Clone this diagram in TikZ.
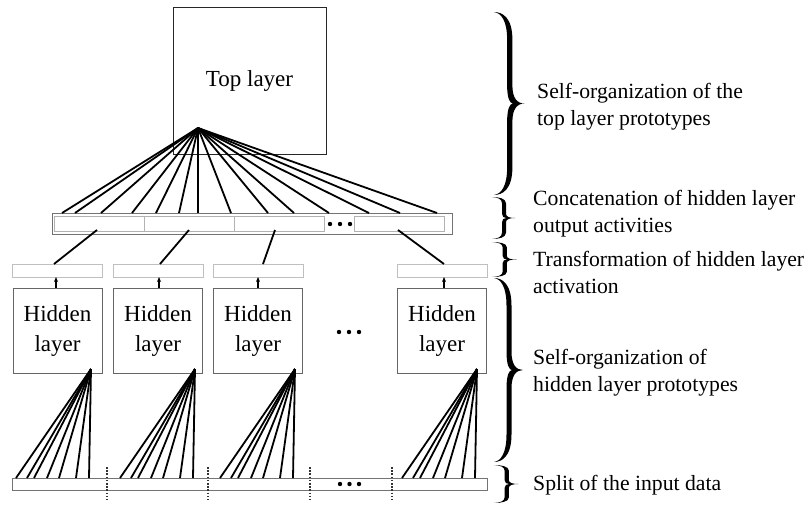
\documentclass[tikz,border=0pt]{standalone}
\usepackage{fontspec}
\setmainfont{Liberation Serif}
\usetikzlibrary{arrows.meta,calc}
\newcommand{\mybrace}[4]{%
\fill[shift={(#1,#2)},yscale=#3,xscale=#4] (0,0) .. controls (8,0) and (17.5,0.03) .. (17.5,0.15) -- (17.5,0.4) .. controls (17.5,0.47) and (22,0.5) .. (29,0.5) .. controls (22,0.5) and (17.5,0.53) .. (17.5,0.6) -- (17.5,0.85) .. controls (17.5,0.97) and (8,1) .. (0,1) .. controls (7,0.995) and (12.5,0.95) .. (12.5,0.85) -- (12.5,0.6) .. controls (12.5,0.53) and (15,0.5) .. (18,0.5) .. controls (15,0.5) and (12.5,0.47) .. (12.5,0.4) -- (12.5,0.15) .. controls (12.5,0.05) and (7,0.005) .. (0,0) -- cycle;}
\tikzset{
  topbox/.style={draw=black!85, line width=0.8pt, inner sep=0, minimum width=153pt, minimum height=147pt, font=\fontsize{23}{30}\selectfont},
  hbox/.style={draw=black!60, line width=0.8pt, inner sep=0, minimum width=89pt, minimum height=85pt, align=center, font=\fontsize{23}{30}\selectfont},
  tbox/.style={draw=black!25, line width=0.7pt, inner sep=0, minimum width=90pt, minimum height=13pt},
  cbox/.style={draw=black!30, line width=0.7pt, inner sep=0, minimum width=90pt, minimum height=15pt},
  barbox/.style={draw=black!55, line width=0.8pt, inner sep=0},
  fan/.style={line width=1.8pt, black},
  up/.style={line width=1.3pt, -{Stealth[length=5pt,width=4pt]}},
  sep/.style={draw=black!80, line width=1.1pt, dash pattern=on 1.6pt off 1.6pt},
  lbl/.style={anchor=west, align=left, inner sep=0, font=\fontsize{21.7}{27}\selectfont},
  dot/.style={fill=black, circle, inner sep=0, minimum size=4.4pt}
}
\begin{document}
\begin{tikzpicture}[x=1pt,y=-1pt]
\useasboundingbox (0,0) rectangle (808,504);
% top layer
\node[topbox] (top) at (249.5,80.5) {Top layer};
\coordinate (tapex) at (198,128);
% concatenation bar
\node[barbox, minimum width=400pt, minimum height=21pt] (cbar) at (252,223.5) {};
\node[cbox] (c1) at (99.5,223.5) {};
\node[cbox] (c2) at (189,223.5) {};
\node[cbox] (c3) at (279,223.5) {};
\node[cbox] (c4) at (399,223.5) {};
\node[dot] (cd1) at (330,224) {};
\node[dot] (cd2) at (340,224) {};
\node[dot] (cd3) at (350,224) {};
\foreach \x in {62,75,101,132,156,179,198,231,268,294,329,369,400,437}
  \draw[fan] (tapex) -- (\x,213);
% transformation boxes
\node[tbox] (t1) at (57,270.5) {};
\node[tbox] (t2) at (158,270.5) {};
\node[tbox] (t3) at (258,270.5) {};
\node[tbox] (t4) at (442,270.5) {};
\draw[fan] (97,230) -- (54,264);
\draw[fan] (189,230) -- (160,264);
\draw[fan] (275,230) -- (263,264);
\draw[fan] (398,230) -- (444,264);
% hidden boxes
\node[hbox] (h1) at (57.5,330.5) {Hidden\\layer};
\node[hbox] (h2) at (158,330.5) {Hidden\\layer};
\node[hbox] (h3) at (258,330.5) {Hidden\\layer};
\node[hbox] (h4) at (442,330.5) {Hidden\\layer};
\node[dot] (hd1) at (339,332) {};
\node[dot] (hd2) at (349,332) {};
\node[dot] (hd3) at (359,332) {};
\draw[up] (56,288) -- (56,277);
\draw[up] (159,288) -- (159,277);
\draw[up] (258,288) -- (258,277);
\draw[up] (444,288) -- (444,277);
% input bar
\node[barbox, minimum width=475pt, minimum height=12pt] (ibar) at (249.5,484) {};
\node[dot] (id1) at (340,484) {};
\node[dot] (id2) at (349.5,484) {};
\node[dot] (id3) at (359,484) {};
\coordinate (a1) at (91,369);
\coordinate (a2) at (195,369);
\coordinate (a3) at (295,369);
\coordinate (a4) at (477,369);
\foreach \a in {1,2,3,4}
  \foreach \d in {-75,-64,-57,-44,-32,-15,-2}
    \draw[fan] (a\a) -- ($(a\a)+(\d,109)$);
\foreach \xx in {107,208,310,392}
  \draw[sep] (\xx,467) -- (\xx,500);
% braces
\mybrace{494}{12}{183}{1.05}
\mybrace{492}{197}{42}{0.8}
\mybrace{492}{242}{35}{0.85}
\mybrace{494}{278}{184}{1}
\mybrace{494}{465}{38}{0.85}
% labels
\node[lbl] (l1) at (537,107) {Self-organization of the\\top layer prototypes};
\node[lbl] (l2) at (533,214) {Concatenation of hidden layer\\output activities};
\node[lbl] (l3) at (533,272) {Transformation of hidden layer\\activation};
\node[lbl] (l4) at (533,373) {Self-organization of\\hidden layer prototypes};
\node[lbl] (l5) at (533,485) {Split of the input data};
\end{tikzpicture}
\end{document}
